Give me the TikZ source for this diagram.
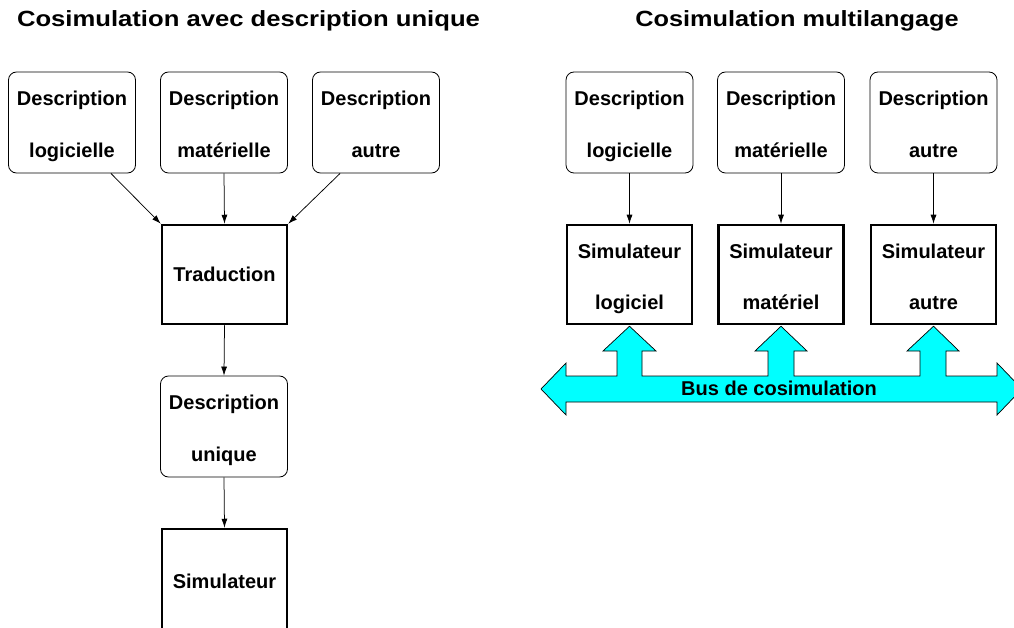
\documentclass[tikz,border=0pt]{standalone}
\usepackage{fontspec}
\usepackage{graphicx}
\setmainfont{Liberation Sans}
\usetikzlibrary{arrows.meta,calc}
\definecolor{buscyan}{RGB}{0,255,255}
\newcommand{\lnstrut}{\rule[-6pt]{0pt}{30pt}}
\newcommand{\twol}[2]{\lnstrut #1\\\lnstrut #2}
\begin{document}
\begin{tikzpicture}[x=1pt,y=-1pt,
  desc/.style={draw, line width=0.8pt, rounded corners=8pt, minimum width=127pt, minimum height=101pt, inner sep=0pt, align=center, font=\fontsize{20}{52}\selectfont\bfseries},
  simbox/.style={draw, line width=2.5pt, minimum width=125pt, minimum height=99pt, inner sep=0pt, align=center, font=\fontsize{20}{51}\selectfont\bfseries},
  arr/.style={-{Latex[length=9pt,width=6pt]}, line width=0.75pt},
  ttl/.style={font=\fontsize{22}{26}\selectfont\bfseries, anchor=base, inner sep=0pt},
  buslabel/.style={font=\fontsize{20}{24}\selectfont\bfseries, anchor=base, inner sep=0pt}]
\useasboundingbox (0,0) rectangle (1014,628);
\clip (0,0) rectangle (1014,628);

% titles
\node[ttl] (t1) at (248.5,27) {\scalebox{1.165}[1]{Cosimulation avec description unique}};
\node[ttl] (t2) at (797,27) {\scalebox{1.15}[1]{Cosimulation multilangage}};

% left column
\node[desc] (dl) at (72,122.5) {\twol{Description}{logicielle}};
\node[desc] (dm) at (224,122.5) {\twol{Description}{matérielle}};
\node[desc] (da) at (376,122.5) {\twol{Description}{autre}};
\node[simbox] (tr) at (224.5,274.5) {Traduction};
\node[desc] (du) at (224,426.5) {\twol{Description}{unique}};
\node[simbox, minimum height=104pt] (su) at (224.5,581) {Simulateur};

\draw[arr] ([xshift=-25pt]dl.south east) -- (tr.north west);
\draw[arr] (dm.south) -- (tr.north);
\draw[arr] ([xshift=28pt]da.south west) -- (tr.north east);
\draw[arr] (tr.south) -- (du.north);
\draw[arr] (du.south) -- (su.north);

% right column
\node[desc] (rl) at (629.5,122.5) {\twol{Description}{logicielle}};
\node[desc] (rm) at (781,122.5) {\twol{Description}{matérielle}};
\node[desc] (ra) at (933.5,122.5) {\twol{Description}{autre}};
\node[simbox] (sl) at (629.5,274.5) {\twol{Simulateur}{logiciel}};
\node[simbox] (sm) at (781,274.5) {\twol{Simulateur}{matériel}};
\node[simbox] (sa) at (933.5,274.5) {\twol{Simulateur}{autre}};

\draw[arr] (rl.south) -- (sl.north);
\draw[arr] (rm.south) -- (sm.north);
\draw[arr] (ra.south) -- (sa.north);

% bus
\draw[fill=buscyan, line width=0.7pt, line join=miter]
  (541,389) -- (566,363) -- (566,376) -- (617,376) -- (617,351) -- (603,351)
  -- ($(sl.south)+(0,1)$) -- (656,351) -- (642,351) -- (642,376)
  -- (768,376) -- (768,351) -- (755,351) -- ($(sm.south)+(0,1)$) -- (807,351)
  -- (794,351) -- (794,376) -- (920,376) -- (920,351) -- (907,351)
  -- ($(sa.south)+(0,1)$) -- (959,351) -- (946,351) -- (946,376)
  -- (997,376) -- (997,363) -- (1022,389) -- (997,415) -- (997,402)
  -- (566,402) -- (566,415) -- cycle;
\node[buslabel] (bus) at (779,395) {Bus de cosimulation};
\end{tikzpicture}
\end{document}
